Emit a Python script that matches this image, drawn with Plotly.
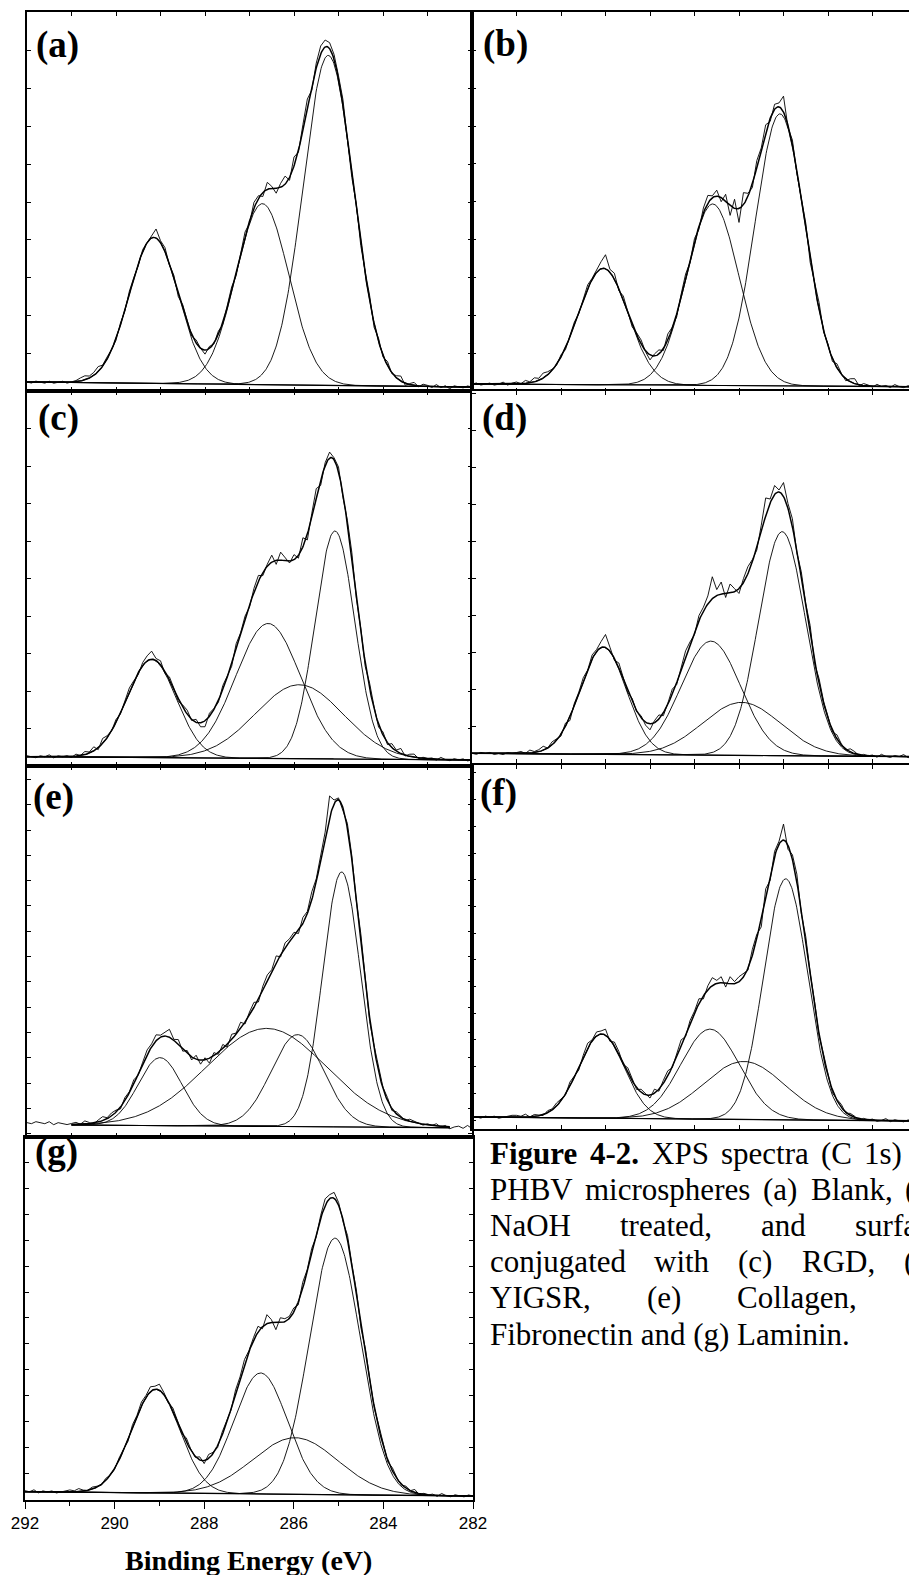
import numpy as np
import plotly.graph_objects as go

W, H = 909, 1575

# ---------------- data ----------------
# energy grid of the measured spectra (eV), 292.0 -> 282.0 in 0.1 eV steps
energy = np.round(292.0 - 0.1 * np.arange(101), 2)

panel_labels = ["(a)", "(b)", "(c)", "(d)", "(e)", "(f)", "(g)"]

# fitted components: centre (eV), height (a.u.), FWHM (eV)
a_centers = [289.15, 286.71, 285.23]
a_heights = [146, 181, 330]
a_fwhm = [1.30, 1.40, 1.33]

b_centers = [289.05, 286.59, 285.08]
b_heights = [116.5, 181.5, 272]
b_fwhm = [1.32, 1.38, 1.30]

c_centers = [289.20, 286.58, 285.88, 285.08]
c_heights = [98, 135, 74, 228]
c_fwhm = [1.31, 1.72, 2.32, 1.05]

d_centers = [289.05, 286.63, 285.94, 285.03]
d_heights = [107, 114, 53, 224]
d_fwhm = [1.22, 1.57, 2.06, 1.24]

e_centers = [289.01, 286.61, 285.92, 284.93]
e_heights = [68, 98, 92, 255]
e_fwhm = [1.16, 3.18, 1.39, 1.00]

f_centers = [289.09, 286.65, 285.89, 284.95]
f_heights = [84, 90, 58, 241]
f_fwhm = [1.20, 1.55, 2.15, 1.16]

g_centers = [289.08, 286.74, 285.97, 285.08]
g_heights = [103.5, 121, 56.6, 256.5]
g_fwhm = [1.27, 1.41, 2.23, 1.34]

# linear background: (start eV, value), (end eV, value)
a_background = [(292.0, 9.0), (282.0, 4.0)]
b_background = [(292.0, 8.0), (282.0, 5.3)]
c_background = [(292.0, 9.3), (282.0, 6.0)]
d_background = [(292.0, 9.7), (282.0, 6.3)]
e_background = [(291.0, 12.0), (282.5, 9.3)]
f_background = [(292.0, 12.0), (282.0, 8.0)]
g_background = [(292.0, 8.3), (282.0, 4.0)]

# residual of the measured counts about the fit envelope (a.u.), one per energy point
a_resid = [0, -1, 1, 0, -1, 1, -1, 0, 1, -1,
           0, 1, 3, 4, 2, 3, 5, 1, 2, 0,
           -2, 2, -1, 3, 1, -2, 2, 0, 1, 9,
           2, 4, -1, 3, -3, 4, 2, -2, 3, 0,
           -4, 2, -1, 3, -2, 1, 4, -3, 2, 5,
           -2, 6, 3, -4, 7, 2, -5, 4, 8, -3,
           9, -2, 6, 10, -3, 5, 8, 7, 6, 5,
           3, 6, -2, -5, 4, -3, 2, 5, -4, 3,
           -2, 4, -1, 2, 5, -2, 1, 3, -1, 2,
           1, -1, 2, -1, 1, -2, 1, 0, -1, 1, 0]
b_resid = [0, 1, -1, 0, 1, -1, 0, 2, -1, 1,
           2, 0, 3, 1, 4, 2, 5, 3, 1, -1,
           2, -2, 1, 3, -1, 2, 4, 1, 3, 7,
           14, 3, 6, -2, 4, 1, -3, 2, 4, -1,
           -5, 2, 4, -2, 6, 1, -3, 3, 5, -2,
           4, -3, 5, 8, 2, 6, -4, 7, -10, 9,
           -14, 12, 3, -4, 7, 2, 8, -3, 5, 4,
           16, -2, 5, -3, 2, 6, -4, 3, 7, -2,
           2, -3, 4, 1, -2, 3, 5, -1, 2, 1,
           -1, 2, 0, 1, -1, 2, 0, -1, 1, 0, 1]
c_resid = [1, 0, -1, 1, 0, 2, -1, 1, 0, 1,
           -1, 2, 0, 3, 1, 4, -2, 5, 2, 0,
           3, -1, 2, 4, 1, -2, 3, 5, 8, 2,
           4, -2, 3, 1, -3, 2, 4, -1, 3, -4,
           -6, 3, 1, -2, 4, 2, -3, 5, 1, 3,
           -2, 4, 6, -3, 2, 7, -4, 8, 3, -2,
           5, -3, 9, -6, 4, 10, -5, 3, 6, 2,
           5, -3, 4, 7, -2, 3, -4, 5, 2, -3,
           3, -2, 4, 1, 5, -1, 2, 3, -1, 1,
           0, 1, -1, 2, 0, -1, 1, 0, 1, -1, 0]
d_resid = [0, -1, 1, 0, 1, -1, 0, -1, 1, 0,
           1, 2, 0, 3, 1, 2, 4, 0, 3, 1,
           -2, 3, -4, 2, 1, 3, -1, 4, 2, 6,
           13, 4, -2, 5, 1, -2, 3, -1, 2, -3,
           -6, 2, 4, -3, 1, 5, -2, 3, 6, 2,
           -3, 5, 4, 8, 22, 6, 12, -4, 9, 3,
           -5, 4, 7, 2, -3, 6, 18, 4, 9, 2,
           14, 5, 8, -2, 6, 3, 9, -3, 5, 2,
           3, -2, 4, 1, -1, 3, 2, -1, 1, 0,
           1, -1, 2, 0, -1, 1, 0, 2, -1, 0, 1]
e_resid = [2, 1, 3, 2, 1, 3, 0, 2, 1, 0,
           1, 2, 0, 3, 1, -1, 2, 4, 1, 3,
           2, -2, 3, 1, 4, -1, 2, 5, 3, 6,
           2, 4, 8, 1, 5, -2, 3, -3, 4, -4,
           2, -5, 3, -2, 4, -3, 5, 1, 6, -2,
           3, 5, -3, 4, 6, 2, 7, -2, 5, 3,
           4, -3, 6, 2, 8, 3, 5, 6, 22, 4,
           2, -3, 5, 4, -2, 7, 3, -4, 2, 5,
           1, 3, -2, 2, 1, -1, 2, 1, 0, -1,
           1, 0, 2, -1, 1, -2, 0, 1, -1, 2, -1]
f_resid = [1, 0, -1, 1, 0, 1, -1, 0, 1, 2,
           2, 1, 3, 0, 2, 1, -1, 2, 1, 3,
           2, -1, 4, 1, -3, 2, 5, 1, 4, 3,
           6, -2, 4, 3, -1, 5, 2, -2, 3, 1,
           -3, 4, -2, 3, 5, -1, 4, 6, -2, 3,
           2, 5, -3, 4, 8, 3, 6, -4, 7, 2,
           5, 3, -2, 6, 4, -9, 7, -6, 5, 3,
           16, -4, 5, 8, -3, 6, 2, 4, -2, 3,
           2, -3, 1, 3, -1, 2, 1, -2, 1, 0,
           1, -1, 0, 2, -1, 1, 0, -1, 1, 0, 1]
g_resid = [1, 0, 2, -1, 1, 0, 1, -1, 0, 1,
           2, 1, 3, 1, 0, 2, 1, -1, 2, 0,
           -1, 2, 1, -2, 3, 1, 4, 2, 5, 3,
           6, 2, -1, 3, 1, -2, 4, 1, -1, 3,
           -3, 4, 1, -2, 3, 2, -1, 4, 2, 5,
           1, 3, 6, -2, 9, 3, -7, 5, 3, 2,
           4, -3, 6, 2, 5, -2, 3, 7, 4, 6,
           3, -2, 5, 1, 4, -3, 6, 2, -1, 3,
           2, -2, 3, 1, -1, 2, 0, 3, -1, 1,
           0, 1, -1, 2, 0, -1, 1, 0, -1, 1, 0]

x_tick_labels = ["292", "290", "288", "286", "284", "282"]
x_title = "Binding Energy (eV)"

caption_lines = [
    [("<b>Figure</b>", 488), ("<b>4-2.</b>", 588), ("XPS", 649.5), ("spectra", 719), ("(C", 819), ("1s)", 862)],
    [("PHBV", 488), ("microspheres", 583.4), ("(a)", 761.4), ("Blank,", 808.5), ("(b)", 903)],
    [("NaOH", 488), ("treated,", 618), ("and", 759), ("surface", 852.8)],
    [("conjugated", 488), ("with", 652), ("(c)", 736), ("RGD,", 799.5), ("(d)", 901.7)],
    [("YIGSR,", 488), ("(e)", 645), ("Collagen,", 735), ("(f)", 910.7)],
    [("Fibronectin and (g) Laminin.", 488)],
]

# ---------------- layout (pixel frames) ----------------
frames = [  # x0, x1, y0(top), y1(bottom)
    (27, 472, 12, 391),
    (472, 917, 12, 392),
    (27, 472, 391, 766),
    (472, 917, 391, 763),
    (27, 472, 766, 1137),
    (472, 917, 765, 1129),
    (25, 473, 1137, 1500),
]
ytick = [(0, 37.8), (0.7, 37.9), (0, 37.5), (0, 37.0), (3.4, 25.3), (9, 26.7), (0.8, 25.9)]
label_pos = [(34, 45), (481, 44), (36, 418), (480, 418), (31, 797), (478, 793), (33, 1152)]

panels = [
    (a_centers, a_heights, a_fwhm, a_background, a_resid),
    (b_centers, b_heights, b_fwhm, b_background, b_resid),
    (c_centers, c_heights, c_fwhm, c_background, c_resid),
    (d_centers, d_heights, d_fwhm, d_background, d_resid),
    (e_centers, e_heights, e_fwhm, e_background, e_resid),
    (f_centers, f_heights, f_fwhm, f_background, f_resid),
    (g_centers, g_heights, g_fwhm, g_background, g_resid),
]


def gauss(E, c, h, w):
    s = w / 2.3548
    return h * np.exp(-0.5 * ((E - c) / s) ** 2)


def background(E, bg):
    (e0, v0), (e1, v1) = bg
    return v0 + (v1 - v0) * (E - e0) / (e1 - e0)


fig = go.Figure()
layout = dict(
    template="none",
    width=W, height=H, margin=dict(l=0, r=0, t=0, b=0, pad=0), autosize=False,
    paper_bgcolor="white", plot_bgcolor="white", showlegend=False,
)
annotations = []

for k, (centers, heights, fwhm, bg, resid) in enumerate(panels):
    idx = k + 1
    xs = "x" if idx == 1 else f"x{idx}"
    ys = "y" if idx == 1 else f"y{idx}"
    x0, x1, y0, y1 = frames[k]
    right_col = x1 > W
    ppe = (x1 - x0) / 10.0
    x_end = 292 - (min(x1, W) - x0) / ppe

    # measured spectrum
    E = energy
    env = background(E, bg) + sum(gauss(E, c, h, w) for c, h, w in zip(centers, heights, fwhm))
    data = env + np.array(resid, dtype=float)
    fig.add_trace(go.Scatter(x=E, y=data, mode="lines", xaxis=xs, yaxis=ys,
                             line=dict(color="black", width=0.9), hoverinfo="skip"))

    # fit curves
    Ef = np.linspace(bg[0][0], bg[1][0], 700)
    base = background(Ef, bg)
    fig.add_trace(go.Scatter(x=Ef, y=base, mode="lines", xaxis=xs, yaxis=ys,
                             line=dict(color="black", width=1.2), hoverinfo="skip"))
    total = base.copy()
    for c, h, w in zip(centers, heights, fwhm):
        comp = gauss(Ef, c, h, w)
        total = total + comp
        fig.add_trace(go.Scatter(x=Ef, y=base + comp, mode="lines", xaxis=xs, yaxis=ys,
                                 line=dict(color="black", width=0.9), hoverinfo="skip"))
    fig.add_trace(go.Scatter(x=Ef, y=total, mode="lines", xaxis=xs, yaxis=ys,
                             line=dict(color="black", width=1.5), hoverinfo="skip"))

    xa = dict(domain=[x0 / W, min(x1, W) / W], range=[292, x_end], anchor=ys,
              automargin=False,
              showline=True, linecolor="black", linewidth=1.6,
              showgrid=False, zeroline=False, tick0=282, dtick=1,
              ticks="inside", ticklen=4, tickcolor="black", tickwidth=1,
              mirror="ticks", showticklabels=False)
    if idx == 7:
        xa.update(ticks="outside", ticklen=7, tickwidth=1.2, mirror=True,
                  showticklabels=True, tickmode="array",
                  tickvals=[float(t) for t in x_tick_labels],
                  ticktext=x_tick_labels,
                  tickfont=dict(family="Arial, Liberation Sans, sans-serif", size=17, color="black"),
                  minor=dict(ticks="outside", dtick=1, tick0=282, ticklen=4,
                             tickwidth=1, tickcolor="black", showgrid=False))
    t0, dt = ytick[k]
    ya = dict(domain=[1 - y1 / H, 1 - y0 / H], range=[0, y1 - y0], anchor=xs,
              automargin=False,
              showline=True, linecolor="black", linewidth=1.6,
              showgrid=False, zeroline=False, tick0=t0, dtick=dt,
              ticks="inside", ticklen=4, tickcolor="black", tickwidth=1,
              mirror=False if right_col else "ticks", showticklabels=False)
    layout["xaxis" if idx == 1 else f"xaxis{idx}"] = xa
    layout["yaxis" if idx == 1 else f"yaxis{idx}"] = ya

    lx, ly = label_pos[k]
    annotations.append(dict(text=f"<b>{panel_labels[k]}</b>", x=lx / W, y=1 - ly / H,
                            xref="paper", yref="paper", xanchor="left", yanchor="middle",
                            showarrow=False,
                            font=dict(family="Times New Roman, Liberation Serif, serif",
                                      size=37, color="black")))

# axis title
annotations.append(dict(text=f"<b>{x_title}</b>", x=249 / W, y=1 - 1560 / H,
                        xref="paper", yref="paper", xanchor="center", yanchor="middle",
                        showarrow=False,
                        font=dict(family="Times New Roman, Liberation Serif, serif",
                                  size=28, color="black")))

# caption
line_y0, line_dy = 1153, 36.2
for li, words in enumerate(caption_lines):
    yc = line_y0 + li * line_dy
    for text, xpx in words:
        annotations.append(dict(text=text, x=xpx / W, y=1 - yc / H,
                                xref="paper", yref="paper", xanchor="left", yanchor="middle",
                                showarrow=False,
                                font=dict(family="Times New Roman, Liberation Serif, serif",
                                          size=31, color="black")))

layout["annotations"] = annotations
fig.update_layout(**layout)
fig.write_html("out.html")
